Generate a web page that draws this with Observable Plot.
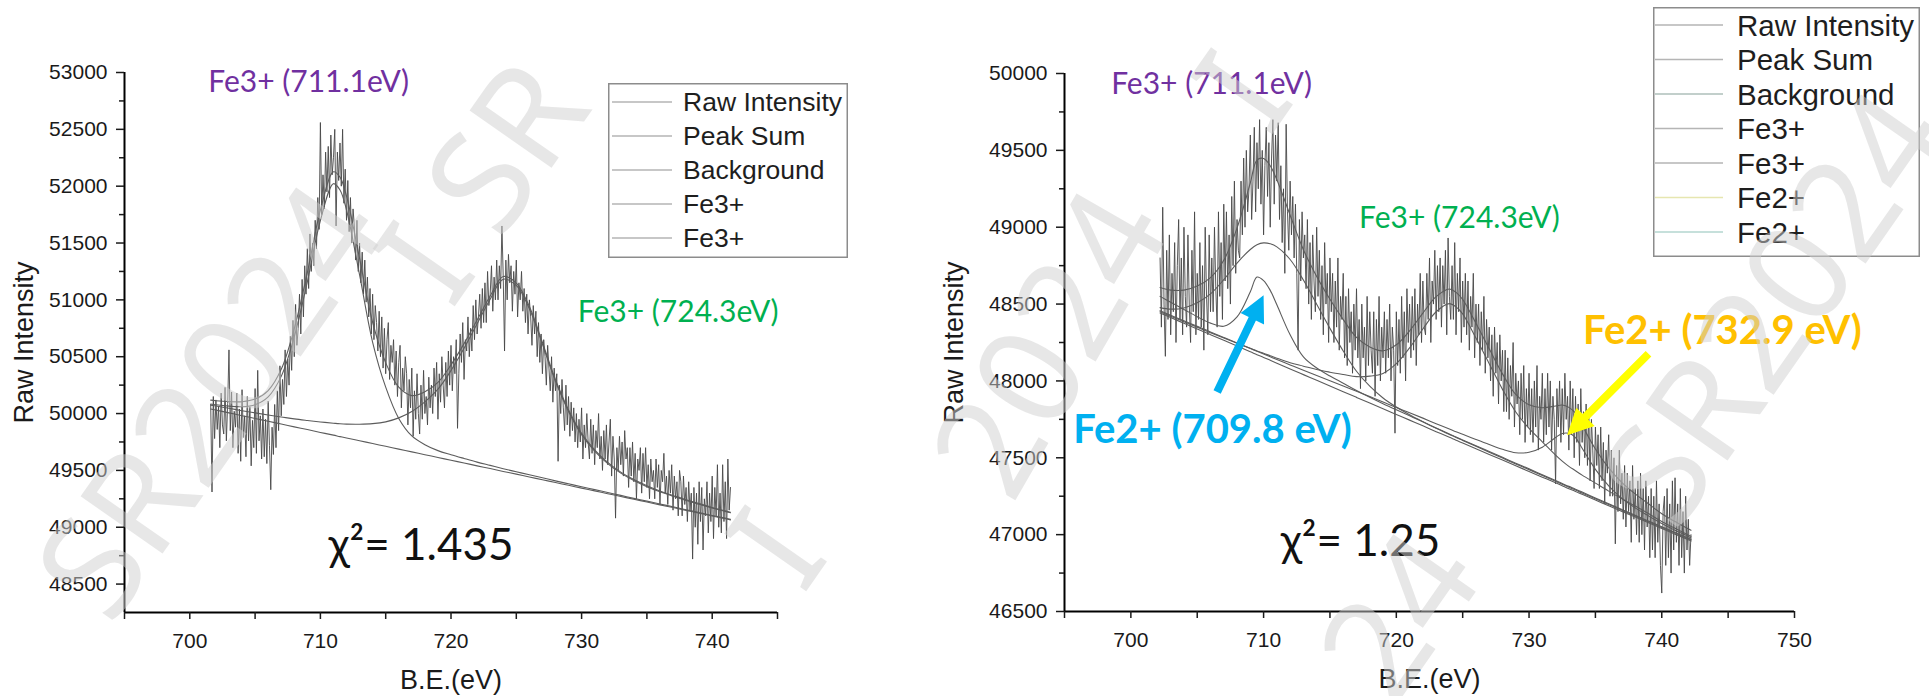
<!DOCTYPE html>
<html><head><meta charset="utf-8">
<script src="https://cdn.jsdelivr.net/npm/d3@7"></script>
<script src="https://cdn.jsdelivr.net/npm/@observablehq/plot@0.6"></script>
<style>
html,body{margin:0;padding:0;background:#fff;}
#root{position:relative;width:1929px;height:696px;overflow:hidden;background:#fff;font-family:"Liberation Sans",Arial,sans-serif;}
.panel{position:absolute;top:0;}
</style></head><body><div id="root"></div>
<script>
// ---------------- DATA ----------------
// Left spectrum (Fe 2p, Fe3+ only fit)
const leftE = [701.6,702,703,704,705,706,707,708,709,710,711,711.5,712,713,714,715,716,717,718,719,720,721,722,723,724,725,726,727,728,729,730,731,732,733,734,735,736,737,738,739,740,741,741.4];
const leftBackground = [50040,50030,50006,49981,49957,49932,49908,49883,49859,49834,49810,49797,49785,49761,49736,49712,49687,49663,49638,49614,49589,49565,49540,49516,49491,49467,49442,49418,49393,49369,49344,49320,49295,49271,49246,49222,49197,49173,49148,49124,49099,49075,49065];
const leftFe3p711 = [44,47,59,79,121,215,419,794,1300,1864,2212,2170,2005,1458,891,520,270,140,88,60,49,40,33,28,24,21,19,17,15,13,12,11,10,9,8,8,7,7,6,6,5,5,5];
const leftFe3p724 = [34,36,40,44,49,55,62,70,80,92,105,113,122,145,175,215,275,355,465,600,790,1010,1250,1490,1690,1660,1480,1190,890,650,470,350,265,205,165,135,115,100,88,78,70,64,62];
const leftRawStart = 701.6, leftRawStep = 0.1;
const leftRaw = [
50080,49310,50150,49780,50120,49860,50060,49700,50180,49900,
49820,50230,49760,50090,50560,49850,50190,49700,50020,49880,
50180,49650,50040,49580,50210,49790,49980,49620,50150,49760,
50060,49540,49940,49700,50220,49650,50380,49760,49980,49600,
50040,49620,49950,49560,50110,49720,49330,49880,49640,50080,
49700,50200,49850,50420,49980,50300,50080,50560,50150,50480,
50250,50680,50380,50820,50500,50960,50600,50750,51050,50700,
51180,50850,51300,51050,51450,51100,51580,51250,51500,51300,
51700,51450,51900,51620,52560,51750,52100,51800,52300,51950,
52350,51900,52450,52100,52250,52500,51650,52300,52050,52380,
52000,52500,51850,52150,51700,52050,51600,51900,51500,51800,
51650,51350,51700,51250,51500,51150,51420,51050,51350,50980,
51200,50850,51100,50700,51050,50650,50950,50800,50550,50900,
50500,50850,50400,50750,50350,50650,50800,50300,50600,50450,
50650,50250,50550,50150,50450,50600,50050,50400,50200,50500,
50350,49900,50300,50050,50400,49800,50200,49950,50350,50000,
49820,50250,49950,50380,50000,50150,49900,50320,50050,50250,
50000,50400,50150,50450,49950,50350,50100,50500,50250,50050,
50450,50150,50550,50250,50600,50200,50500,50350,50650,49870,
50350,50700,50450,50800,50300,50650,50550,50850,50500,50750,
50550,50950,50650,51000,50700,50850,51050,50750,51100,50800,
51150,50800,51250,50950,51050,51300,50900,51200,51000,51350,
51000,51300,51100,51650,51200,50550,51350,51000,51400,51150,
51300,50900,51250,51050,51350,50850,51150,51000,51250,50900,
51100,50800,51050,50700,51000,50850,50600,50950,50700,50900,
50500,50800,50450,50700,50350,50650,50500,50250,50600,50400,
50200,50500,50100,50400,50200,50350,49580,50250,50000,50300,
50050,49850,50250,49900,50150,49800,50100,49850,50050,49750,
50000,49700,49950,49750,50050,49600,49900,49700,50000,49750,
49600,49950,49650,49900,49550,49850,49700,50000,49600,49800,
49500,49850,49600,49900,49550,49750,49950,49450,49800,49600,
49080,49700,49500,49800,49550,49750,49450,49850,49600,49700,
49350,49700,49450,49750,49400,49650,49250,49600,49500,49700,
49300,49650,49400,49700,49350,49550,49250,49600,49400,49500,
49250,49600,49350,49550,49200,49500,49400,49650,49300,49450,
49200,49500,49300,49550,49150,49450,49250,49400,49100,49500,
49400,49100,49450,49200,49350,49050,49400,49150,49300,48720,
49350,49000,49300,48850,49400,49050,49350,48800,49250,49100,
49400,48950,49300,49050,49450,48900,49350,49100,49550,49000,
49300,48950,49550,49050,49400,48900,49600,49150,49350];

// Right spectrum (Fe3+ + Fe2+ fit)
const rightE = [702.2,703,704,705,706,707,708,709,709.5,710,710.5,711,712,713,714,715,716,717,718,719,720,721,722,723,724,724.5,725,726,727,728,729,730,731,732,732.5,733,733.5,734,735,736,737,738,739,740,741,742,742.2];
const rightBackground = [48442,48412,48375,48338,48301,48264,48227,48190,48171,48153,48134,48115,48078,48041,48004,47967,47930,47893,47856,47819,47782,47745,47708,47670,47633,47614,47596,47559,47522,47485,47448,47411,47374,47337,47318,47299,47281,47262,47225,47188,47151,47114,47077,47040,47003,46966,46958];
const rightFe3p711 = [35,55,100,170,265,395,540,665,715,745,758,757,712,615,495,375,265,170,110,70,48,35,27,22,19,18,17,16,14,13,12,12,11,10,10,9,9,9,8,8,8,7,7,7,7,7,7];
const rightFe3p724 = [8,9,10,12,13,15,18,22,24,27,30,33,40,55,70,90,112,135,175,230,330,470,630,780,870,868,840,720,590,460,350,280,230,180,160,145,135,125,110,95,82,72,60,45,38,32,31];
const rightFe2p709 = [108,100,90,80,75,92,190,390,505,500,455,380,222,115,80,65,55,45,38,33,30,28,26,24,22,21,20,20,19,18,17,17,16,15,15,15,15,15,14,13,13,12,12,12,11,11,11];
const rightFe2p732 = [15,15,16,17,18,19,20,21,22,22,23,24,26,28,31,34,37,40,42,44,45,48,50,52,54,55,57,60,64,70,85,125,195,295,340,360,350,300,200,130,85,60,45,32,26,22,21];
const rightRawStart = 702.2, rightRawStep = 0.1;
const rightRaw = [
48800,48350,49130,48500,48160,48850,48400,48950,48300,48700,
48450,48900,48250,48750,49050,48400,48800,48300,49000,48550,
48350,48950,48500,48250,48850,48450,49100,48300,48700,48400,
48900,48350,48750,48200,49000,48550,48300,48950,48450,48800,
48450,49000,48600,48350,49100,48550,48900,48400,49150,48650,
49100,48600,48950,48500,49200,48750,49300,48700,49050,48850,
48800,49300,48950,49450,49000,49500,49100,49250,49600,49050,
49300,49650,49100,49550,49250,49700,49150,49500,48950,49400,
49650,49200,49550,49000,49450,49700,49150,49600,49300,49680,
49050,49400,48900,49250,48700,49670,49100,48850,49300,48950,
49200,48800,49150,48700,48200,49050,48650,49100,48800,48950,
48600,49050,48500,48900,48400,48950,48650,48450,49000,48550,
48850,48400,48750,48300,48900,48500,48700,48250,48800,48450,
48700,48250,48650,48350,48800,48200,48550,48400,48700,48150,
48550,48100,48600,48250,48450,48050,48500,48200,48600,48150,
48400,47950,48500,48150,48350,48000,48550,48100,48450,48200,
48050,48450,47900,48400,48100,48550,48000,48350,48150,48450,
48050,48400,48150,48500,48000,48350,48200,47660,48450,48100,
48400,48050,48550,48150,48450,48000,48600,48250,48500,48150,
48550,48200,48600,48100,48500,48300,48700,48250,48650,48350,
48300,48700,48400,48800,48250,48650,48500,48850,48400,48750,
48450,48800,48350,48750,48500,48850,48300,48930,48550,48400,
48750,48400,48900,48300,48700,48450,48800,48250,48650,48350,
48700,48300,48650,48200,48550,48350,48700,48150,48500,48250,
48500,48100,48450,48200,48550,48050,48400,48150,48350,48000,
48300,47900,48350,48050,48250,47850,48300,48000,48200,47800,
48200,47800,48150,47750,48100,47900,48250,47700,48050,47850,
48000,47650,48050,47750,48100,47600,47950,47700,48050,47650,
47950,47600,48000,47700,48100,47550,47900,47750,48050,47600,
47950,47650,48050,47700,48000,47550,47900,47750,47330,47950,
47700,48000,47600,47950,47650,48050,47750,47900,47550,48000,
47650,47950,47500,47900,47600,47850,47450,47950,47600,47800,
47500,47850,47450,47800,47350,47750,47550,47300,47700,47450,
47650,47300,47700,47350,47600,47200,47550,47400,47650,47250,
47550,47250,47500,46940,47450,47150,47550,47200,47400,47100,
47450,47050,47400,47150,47350,46950,47450,47100,47300,47000,
47350,46950,47400,47000,47300,46900,47350,47050,47250,46850,
47300,46900,47250,46850,47350,46950,47200,46800,46620,47150,
47250,46800,47300,46850,47200,46750,47350,46900,47370,46950,
47200,46800,47300,46850,47150,46750,47250,46900,47100,46800,
47000];

// Ticks
const leftXMajor = [700,710,720,730,740];
const leftXMinor = [695,705,715,725,735,745];
const leftYMajor = [48500,49000,49500,50000,50500,51000,51500,52000,52500,53000];
const leftYMinor = [48750,49250,49750,50250,50750,51250,51750,52250,52750];
const rightXMajor = [700,710,720,730,740,750];
const rightXMinor = [695,705,715,725,735,745];
const rightYMajor = [46500,47000,47500,48000,48500,49000,49500,50000];
const rightYMinor = [46750,47250,47750,48250,48750,49250,49750];

// Text content
const leftLegendLabels = ["Raw Intensity","Peak Sum","Background","Fe3+","Fe3+"];
const rightLegendLabels = ["Raw Intensity","Peak Sum","Background","Fe3+","Fe3+","Fe2+","Fe2+"];
const leftNoteLabels = ["Fe3+ (711.1eV)","Fe3+ (724.3eV)","χ²= 1.435"];
const rightNoteLabels = ["Fe3+ (711.1eV)","Fe3+ (724.3eV)","Fe2+ (709.8 eV)","Fe2+ (732.9 eV)","χ²= 1.25"];
const watermarkPieces = ["SR2024","I SR","I","2024","I","24","SR2024"];

// ---------------- BUILD ----------------
const H = 696;
const root = document.getElementById("root");
const FONT = "'Liberation Sans', Arial, sans-serif";
const NOTE_FONT = "Lato, 'Open Sans', sans-serif";

const leftRawData = leftRaw.map((v, i) => ({e: Math.round((leftRawStart + i * leftRawStep) * 10) / 10, v}));
const rightRawData = rightRaw.map((v, i) => ({e: Math.round((rightRawStart + i * rightRawStep) * 10) / 10, v}));
const leftFit = leftE.map((e, i) => ({
  e, bg: leftBackground[i],
  c1: leftBackground[i] + leftFe3p711[i],
  c2: leftBackground[i] + leftFe3p724[i],
  sum: leftBackground[i] + leftFe3p711[i] + leftFe3p724[i]
}));
const rightFit = rightE.map((e, i) => ({
  e, bg: rightBackground[i],
  c1: rightBackground[i] + rightFe3p711[i],
  c2: rightBackground[i] + rightFe3p724[i],
  c3: rightBackground[i] + rightFe2p709[i],
  c4: rightBackground[i] + rightFe2p732[i],
  sum: rightBackground[i] + rightFe3p711[i] + rightFe3p724[i] + rightFe2p709[i] + rightFe2p732[i]
}));

const arrowShape = {
  draw(ctx, l) {
    const hl = 26, hw = 13, sw = 4;
    ctx.moveTo(-sw, 0);
    ctx.lineTo(-sw, hl - l);
    ctx.lineTo(-hw, hl - l);
    ctx.lineTo(0, -l);
    ctx.lineTo(hw, hl - l);
    ctx.lineTo(sw, hl - l);
    ctx.lineTo(sw, 0);
    ctx.closePath();
  }
};

function buildPanel(cfg) {
  const xs = d3.scaleLinear().domain(cfg.xDomain).range([cfg.mL, cfg.width - cfg.mR]);
  const ys = d3.scaleLinear().domain(cfg.yDomain).range([H - cfg.mB, cfg.mT]);
  const lineStyle = {stroke: "#5c5c5c", strokeWidth: 1.1, curve: "catmull-rom"};
  const notes = cfg.notes.map(n => Plot.text([n], {
    x: "e", y: "v", text: "t", fill: n.fill, fontSize: n.size, fontWeight: n.weight || "normal", fontFamily: NOTE_FONT
  }));
  const arrows = cfg.arrows.map(a => {
    const dx = xs(a.x2) - xs(a.x1), dy = ys(a.y2) - ys(a.y1);
    const len = Math.hypot(dx, dy);
    const rot = Math.atan2(dx, -dy) * 180 / Math.PI;
    return Plot.vector([a], {x: "x2", y: "y2", length: len, rotate: rot, anchor: "end", shape: arrowShape, fill: a.fill, stroke: "none"});
  });
  const svg = Plot.plot({
    width: cfg.width, height: H,
    marginLeft: cfg.mL, marginRight: cfg.mR, marginTop: cfg.mT, marginBottom: cfg.mB,
    x: {domain: cfg.xDomain, axis: null},
    y: {domain: cfg.yDomain, axis: null},
    style: {fontFamily: FONT, color: "#1a1a1a", background: "transparent", overflow: "visible"},
    marks: [
      Plot.line(cfg.raw, {x: "e", y: "v", stroke: "#474747", strokeWidth: 0.9}),
      ...cfg.curveKeys.map(k => Plot.line(cfg.fit, {x: "e", y: k, ...lineStyle})),
      Plot.ruleX([cfg.xDomain[0]], {stroke: "#000", strokeWidth: 2}),
      Plot.ruleY([cfg.yDomain[0]], {stroke: "#000", strokeWidth: 2}),
      Plot.axisX({ticks: [...cfg.xMajor, ...cfg.xMinor], tickSize: 7, tickPadding: 14, strokeWidth: 1.5,
        tickFormat: d => cfg.xMajor.includes(d) ? String(d) : null, fontSize: 21, label: null}),
      Plot.axisY({ticks: cfg.yMajor, tickSize: 8, tickPadding: 9, strokeWidth: 1.5,
        tickFormat: d => String(d), fontSize: 21, label: null}),
      Plot.axisY({ticks: cfg.yMinor, tickSize: 5, strokeWidth: 1.5, tickFormat: () => null, label: null}),
      Plot.text(["Raw Intensity"], {frameAnchor: "left", dx: cfg.yLabelDx, rotate: -90, text: d => d,
        fontSize: 27, textAnchor: "middle", lineAnchor: "middle"}),
      Plot.text(["B.E.(eV)"], {frameAnchor: "bottom", dy: 68, text: d => d, fontSize: 27,
        textAnchor: "middle", lineAnchor: "middle"}),
      ...notes,
      ...arrows
    ]
  });
  const wrap = document.createElement("div");
  wrap.className = "panel";
  wrap.style.left = cfg.left + "px";
  wrap.appendChild(svg);
  root.appendChild(wrap);
}

buildPanel({
  left: 0, width: 900, mL: 124, mR: 123, mT: 72, mB: 84,
  xDomain: [695, 745], yDomain: [48250, 53000],
  xMajor: leftXMajor, xMinor: leftXMinor, yMajor: leftYMajor, yMinor: leftYMinor,
  raw: leftRawData, fit: leftFit, curveKeys: ["bg", "c1", "c2", "sum"], yLabelDx: -100,
  notes: [
    {e: 709.1, v: 52912, t: leftNoteLabels[0], fill: "#7030A0", size: 30},
    {e: 737.4, v: 50891, t: leftNoteLabels[1], fill: "#00B050", size: 30},
    {e: 717.7, v: 48835, t: leftNoteLabels[2], fill: "#111111", size: 44}
  ],
  arrows: []
});

buildPanel({
  left: 900, width: 1029, mL: 164, mR: 135, mT: 73, mB: 85,
  xDomain: [695, 750], yDomain: [46500, 50000],
  xMajor: rightXMajor, xMinor: rightXMinor, yMajor: rightYMajor, yMinor: rightYMinor,
  raw: rightRawData, fit: rightFit, curveKeys: ["bg", "c4", "c3", "c2", "c1", "sum"], yLabelDx: -110,
  notes: [
    {e: 706.08, v: 49928, t: rightNoteLabels[0], fill: "#7030A0", size: 30},
    {e: 724.76, v: 49057, t: rightNoteLabels[1], fill: "#00B050", size: 30},
    {e: 706.15, v: 47679, t: rightNoteLabels[2], fill: "#00B0F0", size: 40, weight: "bold"},
    {e: 744.57, v: 48322, t: rightNoteLabels[3], fill: "#FFC000", size: 40, weight: "bold"},
    {e: 717.3, v: 46951, t: rightNoteLabels[4], fill: "#111111", size: 44}
  ],
  arrows: [
    {x1: 706.5, y1: 47928, x2: 710.0, y2: 48557, fill: "#00B0F0"},
    {x1: 739.0, y1: 48177, x2: 732.87, y2: 47646, fill: "#FFFF00"}
  ]
});

function addLegend(c, labels) {
  const svg = d3.select(root).append("svg")
    .attr("width", c.w).attr("height", c.h)
    .style("position", "absolute").style("left", c.x + "px").style("top", c.y + "px");
  svg.append("rect").attr("x", 0.75).attr("y", 0.75).attr("width", c.w - 1.5).attr("height", c.h - 1.5)
    .attr("fill", "#fff").attr("stroke", "#8c8c8c").attr("stroke-width", 1.5);
  labels.forEach((label, i) => {
    const y = c.y0 + i * c.dy;
    svg.append("line").attr("x1", c.lx1).attr("x2", c.lx2).attr("y1", y).attr("y2", y)
      .attr("stroke", c.colors[i] || "#b5b5b5").attr("stroke-width", 1.6);
    svg.append("text").attr("x", c.tx).attr("y", y).attr("dominant-baseline", "central")
      .attr("font-family", FONT).attr("font-size", c.fs).attr("fill", "#1e1e1e").text(label);
  });
}
addLegend({x: 608, y: 83, w: 240, h: 175, y0: 19, dy: 34, lx1: 4, lx2: 64, tx: 75, fs: 26.5,
  colors: ["#b5b5b5", "#b5b5b5", "#b5b5b5", "#b5b5b5", "#b5b5b5"]}, leftLegendLabels);
addLegend({x: 1653, y: 7, w: 267, h: 250, y0: 18, dy: 34.5, lx1: 2, lx2: 70, tx: 84, fs: 29.5,
  colors: ["#b5b5b5", "#b5b5b5", "#aebfba", "#b5b5b5", "#b5b5b5", "#e6e6b0", "#b3d6cf"]}, rightLegendLabels);

// watermark overlay (light, semi-transparent, on top as in the source image)
const wm = d3.select(root).append("svg").attr("width", 1929).attr("height", H)
  .style("position", "absolute").style("left", "0px").style("top", "0px").style("pointer-events", "none");
[
  {x: 205, y: 398, r: -55},
  {x: 478, y: 178, r: -55},
  {x: 772, y: 545, r: -55},
  {x: 1045, y: 340, r: -60},
  {x: 1238, y: 88, r: -55},
  {x: 1395, y: 612, r: -55},
  {x: 1770, y: 305, r: -55}
].forEach((w, i) => {
  wm.append("text").attr("transform", `translate(${w.x},${w.y}) rotate(${w.r})`)
    .attr("text-anchor", "middle").attr("dominant-baseline", "central")
    .attr("font-family", "'Noto Sans', sans-serif").attr("font-size", 140)
    .attr("fill", "#cfcfcf").attr("fill-opacity", 0.5).text(watermarkPieces[i]);
});
</script></body></html>
